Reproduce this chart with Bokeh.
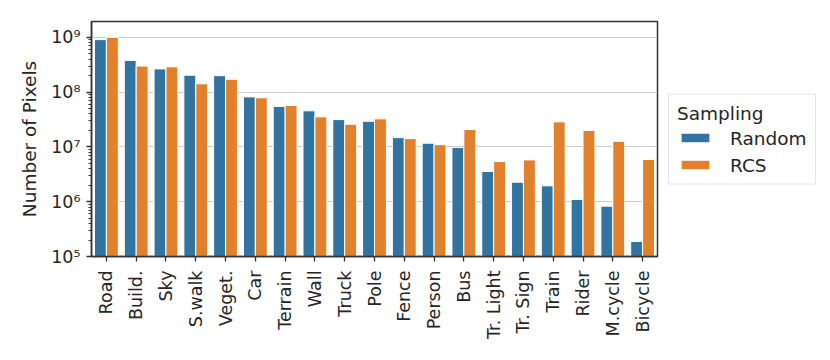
import math
from bokeh.plotting import figure
from bokeh.models import (ColumnDataSource, FactorRange, Range1d, FixedTicker,
                          CustomJSTickFormatter, Legend, LegendItem)
from bokeh.transform import dodge
from bokeh.embed import file_html
from bokeh.resources import INLINE

categories = ["Road", "Build.", "Sky", "S.walk", "Veget.", "Car", "Terrain", "Wall",
              "Truck", "Pole", "Fence", "Person", "Bus", "Tr. Light", "Tr. Sign",
              "Train", "Rider", "M.cycle", "Bicycle"]
random_vals = [9.1e8, 3.8e8, 2.66e8, 2.04e8, 2.0e8, 8.2e7, 5.5e7, 4.56e7, 3.16e7,
               2.94e7, 1.48e7, 1.17e7, 9.75e6, 3.56e6, 2.27e6, 1.95e6, 1.1e6,
               8.3e5, 1.88e5]
rcs_vals = [1.0e9, 3.0e8, 2.9e8, 1.42e8, 1.72e8, 7.9e7, 5.7e7, 3.54e7, 2.6e7,
            3.26e7, 1.42e7, 1.1e7, 2.08e7, 5.4e6, 5.8e6, 2.87e7, 2.0e7, 1.27e7,
            5.9e6]
series_names = ["Random", "RCS"]
y_min, y_max = 1e5, 1.95e9
major_exps = [5, 6, 7, 8, 9]

BLUE = "#3274a1"
ORANGE = "#e1812c"
TEXT = "#262626"
FONT = "DejaVu Sans"

src = ColumnDataSource(dict(cat=categories, random=random_vals, rcs=rcs_vals,
                            base=[y_min] * len(categories)))

p = figure(x_range=FactorRange(*categories), y_range=Range1d(y_min, y_max),
           y_axis_type="log", frame_width=566, frame_height=235,
           output_backend="svg", toolbar_location=None,
           min_border_left=91, min_border_top=21, min_border_bottom=100,
           min_border_right=170)

r1 = p.vbar(x=dodge("cat", -0.2, range=p.x_range), top="random", bottom="base",
            width=0.4, source=src, fill_color=BLUE, line_color="white", line_width=1)
r2 = p.vbar(x=dodge("cat", 0.2, range=p.x_range), top="rcs", bottom="base",
            width=0.4, source=src, fill_color=ORANGE, line_color="white", line_width=1)

majors = [10.0 ** e for e in major_exps]
minors = [k * 10.0 ** e for e in major_exps for k in range(2, 10) if k * 10.0 ** e <= y_max]
p.yaxis.ticker = FixedTicker(ticks=majors, minor_ticks=minors)
p.yaxis.formatter = CustomJSTickFormatter(code="""
const sup = {"0":"\u2070","1":"\u00b9","2":"\u00b2","3":"\u00b3","4":"\u2074",
             "5":"\u2075","6":"\u2076","7":"\u2077","8":"\u2078","9":"\u2079","-":"\u207b"};
const e = Math.round(Math.log10(tick));
return "10" + String(e).split("").map(c => sup[c]).join("");
""")

p.yaxis.axis_label = "Number of Pixels"
p.yaxis.axis_label_text_font = FONT
p.yaxis.axis_label_text_font_size = "18.5px"
p.yaxis.axis_label_text_font_style = "normal"
p.yaxis.axis_label_text_color = TEXT
p.yaxis.axis_label_standoff = 8

for ax in (p.xaxis[0], p.yaxis[0]):
    ax.major_label_text_font = FONT
    ax.major_label_text_font_size = "17.5px"
    ax.major_label_text_color = TEXT
    ax.axis_line_color = "#333333"
    ax.axis_line_width = 1.5
    ax.major_tick_line_color = "#333333"
    ax.major_tick_line_width = 1.3
    ax.major_tick_in = 0
    ax.major_tick_out = 5
    ax.minor_tick_in = 0

p.yaxis.minor_tick_out = 3
p.yaxis.minor_tick_line_color = "#333333"
p.yaxis.major_label_standoff = 6
p.xaxis.minor_tick_line_color = None
p.xaxis.major_label_orientation = math.pi / 2
p.xaxis.major_label_standoff = 9

p.xgrid.visible = False
p.ygrid.grid_line_color = "#cccccc"
p.ygrid.grid_line_width = 1.2
p.outline_line_color = "#333333"
p.outline_line_width = 1.5
p.outline_line_alpha = 1.0

legend = Legend(items=[LegendItem(label=series_names[0], renderers=[r1]),
                       LegendItem(label=series_names[1], renderers=[r2])],
                location="left", title="Sampling")
legend.title_text_font = FONT
legend.title_text_font_size = "18.5px"
legend.title_text_font_style = "normal"
legend.title_text_color = TEXT
legend.title_text_align = "center"
legend.title_standoff = 4
legend.label_text_font = FONT
legend.label_text_font_size = "18.5px"
legend.label_text_color = TEXT
legend.glyph_width = 36
legend.glyph_height = 12
legend.label_height = 20
legend.label_standoff = 17
legend.spacing = 6
legend.padding = 8
legend.margin = 11
legend.border_line_color = "#cccccc"
legend.border_line_width = 1.2
legend.background_fill_alpha = 0.8
p.add_layout(legend, "right")

open("out.html", "w").write(file_html(p, INLINE))
